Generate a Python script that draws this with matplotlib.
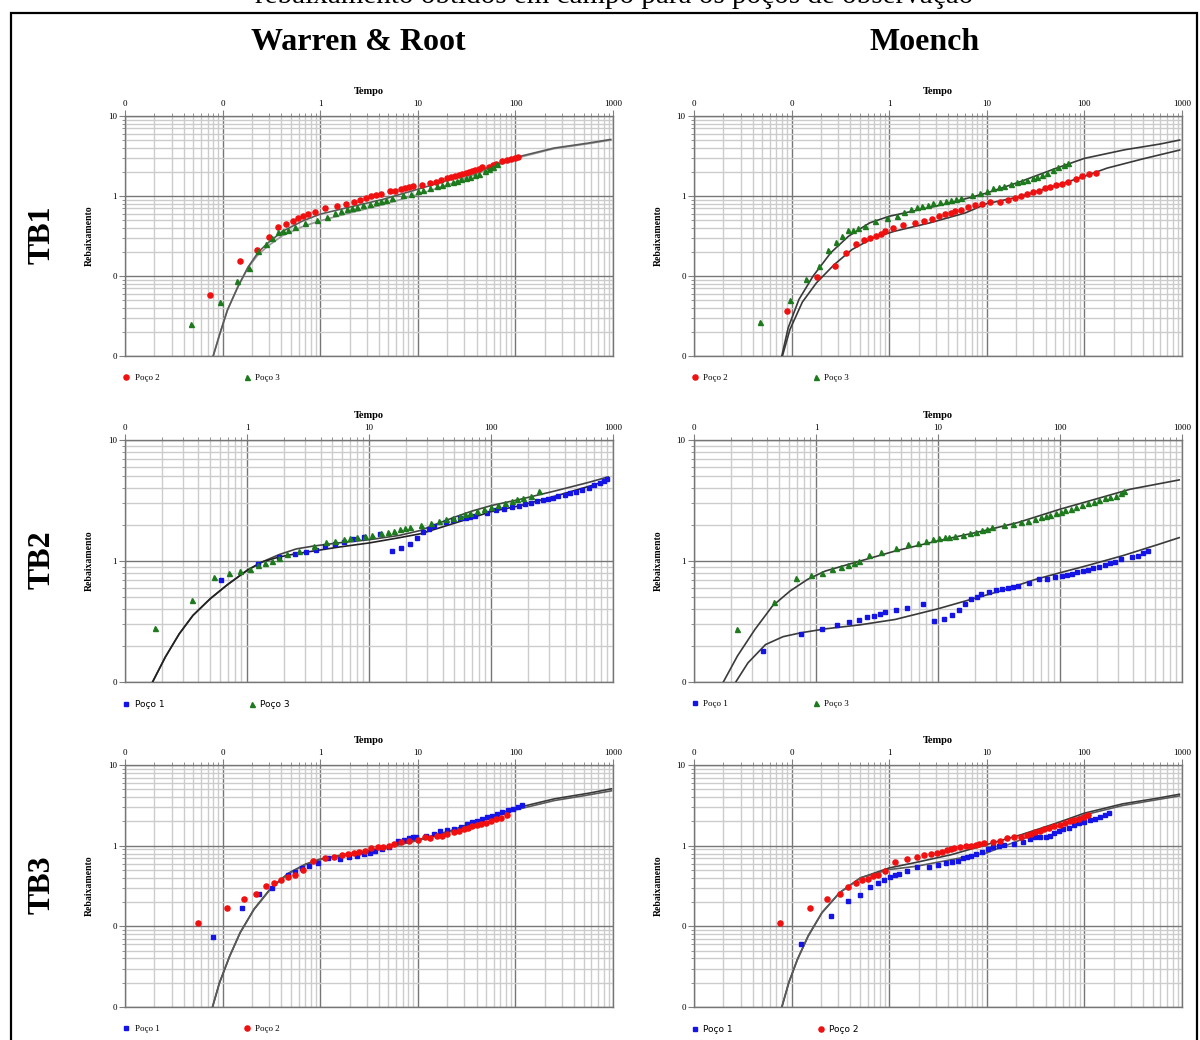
import matplotlib
matplotlib.use("Agg")
import matplotlib.pyplot as plt
from matplotlib.patches import Rectangle
from matplotlib.ticker import FixedLocator, FixedFormatter, LogLocator, NullFormatter

# ---------------- TB1 / Warren & Root ----------------
tb1_wr_p2_t = [0.074, 0.149, 0.223, 0.296, 0.372, 0.445, 0.523, 0.595, 0.667, 0.746, 0.885, 1.11, 1.48,
               1.85, 2.21, 2.58, 2.96, 3.32, 3.72, 4.17, 5.23, 5.9, 6.72, 7.47, 8.1, 8.93, 11.1, 13.4, 15.2,
               17.3, 20.1, 22.1, 24.2, 26.2, 28.5, 30.9, 33.5, 36.0, 38.7, 42.0, 45.9, 53.1, 58.6, 63.5,
               73.5, 81.7, 90.0, 98.4, 106]
tb1_wr_p2_s = [0.058, 0.156, 0.21, 0.307, 0.405, 0.445, 0.48, 0.524, 0.56, 0.593, 0.634, 0.703, 0.744,
               0.788, 0.843, 0.901, 0.944, 0.99, 1.02, 1.06, 1.14, 1.17, 1.23, 1.26, 1.29, 1.34, 1.38, 1.45,
               1.51, 1.59, 1.67, 1.72, 1.79, 1.84, 1.89, 1.96, 2.02, 2.08, 2.12, 2.20, 2.27, 2.33, 2.42,
               2.52, 2.74, 2.85, 2.93, 3.02, 3.1]
tb1_wr_p3_t = [0.047, 0.093, 0.139, 0.185, 0.232, 0.28, 0.324, 0.372, 0.417, 0.467, 0.557, 0.706, 0.929,
               1.16, 1.41, 1.64, 1.88, 2.11, 2.36, 2.75, 3.24, 3.75, 4.24, 4.74, 5.49, 7.0, 8.57, 9.92,
               11.4, 13.4, 15.7, 17.8, 20.1, 22.7, 25.2, 27.8, 30.9, 34.3, 38.4, 42.7, 48.2, 54.0, 58.6, 65.0]
tb1_wr_p3_s = [0.025, 0.047, 0.087, 0.126, 0.204, 0.252, 0.301, 0.358, 0.365, 0.375, 0.405, 0.463, 0.504,
               0.549, 0.61, 0.646, 0.69, 0.717, 0.731, 0.766, 0.804, 0.834, 0.867, 0.901, 0.935, 1.02, 1.07,
               1.14, 1.2, 1.26, 1.33, 1.38, 1.45, 1.51, 1.56, 1.61, 1.67, 1.74, 1.82, 1.89, 2.04, 2.20,
               2.33, 2.54]
tb1_wr_c1_t = [0.08, 0.094, 0.112, 0.143, 0.182, 0.232, 0.296, 0.41, 0.667, 1.0, 1.91, 4.3, 9.68, 21.8,
               49.0, 101, 248, 557, 945]
tb1_wr_c1_s = [0.01, 0.0193, 0.0375, 0.073, 0.129, 0.199, 0.264, 0.361, 0.49, 0.593, 0.717, 0.901, 1.2,
               1.61, 2.2, 3.04, 3.97, 4.58, 5.09]
tb1_wr_c2_t = [0.08, 0.094, 0.112, 0.143, 0.182, 0.232, 0.296, 0.41, 0.667, 1.0, 1.91, 4.3, 9.68, 21.8,
               49.0, 101, 248, 557, 945]
tb1_wr_c2_s = [0.01, 0.0193, 0.0375, 0.073, 0.127, 0.186, 0.24, 0.319, 0.417, 0.49, 0.604, 0.773, 1.03,
               1.42, 2.08, 2.96, 3.9, 4.5, 4.99]

# ---------------- TB1 / Moench ----------------
tb1_mo_p2_t = [0.0908, 0.182, 0.276, 0.364, 0.456, 0.548, 0.631, 0.728, 0.818, 0.912, 1.09, 1.37, 1.82,
               2.27, 2.75, 3.22, 3.72, 4.25, 4.77, 5.41, 6.45, 7.62, 9.01, 10.8, 13.7, 16.4, 19.4, 22.4,
               26.0, 30.0, 34.3, 39.5, 44.8, 51.7, 58.6, 68.1, 81.8, 95.1, 112, 131]
tb1_mo_p2_s = [0.0364, 0.0977, 0.133, 0.191, 0.249, 0.28, 0.297, 0.32, 0.339, 0.37, 0.395, 0.435, 0.461,
               0.488, 0.521, 0.557, 0.59, 0.62, 0.65, 0.676, 0.722, 0.765, 0.802, 0.842, 0.85, 0.9, 0.944,
               1.01, 1.06, 1.11, 1.17, 1.25, 1.29, 1.37, 1.43, 1.51, 1.64, 1.76, 1.86, 1.94]
tb1_mo_p3_t = [0.047, 0.0955, 0.1415, 0.191, 0.2355, 0.283, 0.329, 0.383, 0.43, 0.48, 0.566, 0.716, 0.96,
               1.19, 1.42, 1.66, 1.92, 2.16, 2.47, 2.79, 3.3, 3.81, 4.32, 4.85, 5.41, 7.13, 8.57, 10, 11.6,
               13.3, 15.1, 17.6, 20.3, 23.0, 26.0, 29.5, 32.9, 37.0, 41.2, 48.0, 53.8, 61.5, 68.0]
tb1_mo_p3_s = [0.0265, 0.0494, 0.0904, 0.1315, 0.212, 0.264, 0.32, 0.373, 0.38, 0.395, 0.427, 0.483,
               0.526, 0.569, 0.638, 0.689, 0.73, 0.743, 0.765, 0.81, 0.842, 0.867, 0.9, 0.927, 0.953,
               1.04, 1.1, 1.17, 1.25, 1.29, 1.35, 1.41, 1.48, 1.54, 1.6, 1.68, 1.74, 1.85, 1.95, 2.13,
               2.28, 2.41, 2.58]
tb1_mo_c1_t = [0.0794, 0.0924, 0.119, 0.166, 0.252, 0.383, 0.631, 1.0, 1.72, 3.97, 10, 21.1, 48.7, 100,
               259, 598, 946]
tb1_mo_c1_s = [0.01, 0.0226, 0.0509, 0.0995, 0.195, 0.314, 0.461, 0.557, 0.644, 0.802, 1.09, 1.48, 2.17,
               2.95, 3.78, 4.46, 5.0]
tb1_mo_c2_t = [0.0806, 0.0963, 0.129, 0.18, 0.274, 0.416, 0.687, 1.13, 2.61, 6.03, 10, 21.1, 48.7, 100,
               171, 394, 946]
tb1_mo_c2_s = [0.01, 0.0215, 0.0472, 0.0822, 0.139, 0.214, 0.299, 0.362, 0.461, 0.614, 0.802, 0.97,
               1.32, 1.76, 2.23, 2.9, 3.75]

# ---------------- TB2 / Warren & Root ----------------
tb2_wr_p1_t = [0.61, 1.22, 1.84, 2.47, 3.06, 3.7, 4.32, 5.25, 6.22, 7.41, 9.13, 12.3, 15.4, 18.4, 21.7,
               24.9, 27.6, 31.0, 33.8, 43.0, 48.9, 55.7, 62.2, 67.7, 73.7, 91.9, 110, 128, 148, 168, 188,
               214, 238, 265, 292, 322, 355, 400, 446, 499, 561, 630, 703, 776, 845, 896]
tb2_wr_p1_s = [0.696, 0.951, 1.07, 1.14, 1.19, 1.24, 1.32, 1.37, 1.45, 1.52, 1.57, 1.68, 1.22, 1.28,
               1.37, 1.54, 1.73, 1.85, 1.94, 2.1, 2.2, 2.25, 2.28, 2.33, 2.36, 2.51, 2.66, 2.71, 2.8, 2.87,
               2.94, 3.02, 3.12, 3.2, 3.26, 3.34, 3.45, 3.54, 3.63, 3.75, 3.89, 4.05, 4.28, 4.45, 4.62, 4.74]
tb2_wr_p3_t = [0.177, 0.353, 0.536, 0.708, 0.879, 1.05, 1.24, 1.41, 1.61, 1.83, 2.13, 2.67, 3.51, 4.41,
               5.25, 6.22, 7.03, 7.91, 9.31, 10.6, 12.5, 14.2, 15.9, 17.8, 19.7, 21.7, 26.7, 32.1, 37.7,
               43.0, 48.9, 55.7, 61.4, 67.7, 77.1, 87.9, 100, 114, 130, 148, 163, 183, 211, 249]
tb2_wr_p3_s = [0.282, 0.472, 0.738, 0.791, 0.821, 0.865, 0.927, 0.969, 1.0, 1.05, 1.14, 1.22, 1.32,
               1.44, 1.47, 1.52, 1.56, 1.58, 1.62, 1.65, 1.71, 1.73, 1.78, 1.84, 1.87, 1.91, 2.0, 2.08,
               2.14, 2.21, 2.28, 2.37, 2.43, 2.5, 2.58, 2.68, 2.78, 2.91, 3.04, 3.16, 3.24, 3.34, 3.47, 3.79]
tb2_wr_c1_t = [0.168, 0.214, 0.278, 0.36, 0.499, 0.69, 1.0, 1.32, 1.83, 2.54, 3.51, 5.53, 10, 17.8, 26.4,
               36.5, 50.5, 70, 100, 174, 333, 638, 912]
tb2_wr_c1_s = [0.1, 0.161, 0.25, 0.355, 0.488, 0.637, 0.837, 0.98, 1.13, 1.26, 1.33, 1.41, 1.5, 1.63,
               1.79, 2.04, 2.31, 2.59, 2.87, 3.24, 3.79, 4.48, 4.96]
tb2_wr_c2_t = [0.168, 0.214, 0.278, 0.36, 0.499, 0.69, 1.0, 1.32, 1.83, 2.54, 3.51, 5.53, 10, 17.8, 26.4,
               36.5, 50.5, 70, 100, 174, 333, 638, 912]
tb2_wr_c2_s = [0.1, 0.161, 0.25, 0.355, 0.488, 0.637, 0.837, 0.98, 1.08, 1.15, 1.21, 1.3, 1.41, 1.56,
               1.68, 1.86, 2.06, 2.28, 2.56, 2.87, 3.43, 4.15, 4.65]

# ---------------- TB2 / Moench ----------------
tb2_mo_p1_t = [0.371, 0.748, 1.12, 1.49, 1.86, 2.24, 2.61, 2.98, 3.36, 3.71, 4.49, 5.58, 7.52, 9.36,
               11.2, 13.0, 14.9, 16.7, 18.8, 20.7, 22.6, 26.1, 30.0, 33.6, 37.6, 41.5, 45.2, 56.2, 67.2,
               78.3, 90.6, 103, 114, 126, 139, 154, 170, 188, 207, 232, 256, 283, 318, 388, 434, 483, 523]
tb2_mo_p1_s = [0.182, 0.25, 0.275, 0.297, 0.313, 0.323, 0.344, 0.351, 0.364, 0.378, 0.393, 0.408, 0.438,
               0.319, 0.331, 0.357, 0.396, 0.443, 0.482, 0.504, 0.537, 0.554, 0.572, 0.583, 0.598, 0.61,
               0.617, 0.653, 0.705, 0.705, 0.733, 0.746, 0.766, 0.785, 0.805, 0.826, 0.848, 0.869, 0.898,
               0.927, 0.957, 0.987, 1.03, 1.07, 1.11, 1.17, 1.22]
tb2_mo_p3_t = [0.227, 0.452, 0.686, 0.906, 1.13, 1.36, 1.6, 1.82, 2.04, 2.25, 2.73, 3.4, 4.55, 5.7, 6.86,
               7.93, 9.12, 10.2, 11.4, 12.4, 13.7, 15.9, 18.2, 20.4, 23.0, 25.2, 27.5, 34.7, 40.9, 47.6,
               55.1, 62.9, 69.5, 76.7, 83.6, 92.4, 101, 110, 122, 135, 151, 170, 191, 210, 232, 256, 288,
               318, 334]
tb2_mo_p3_s = [0.272, 0.461, 0.719, 0.766, 0.8, 0.853, 0.897, 0.927, 0.957, 1.0, 1.12, 1.19, 1.29, 1.39,
               1.42, 1.47, 1.51, 1.54, 1.57, 1.59, 1.61, 1.65, 1.69, 1.75, 1.79, 1.84, 1.9, 1.97, 2.02,
               2.09, 2.16, 2.23, 2.3, 2.36, 2.42, 2.48, 2.54, 2.63, 2.71, 2.8, 2.89, 3.0, 3.1, 3.2, 3.3,
               3.37, 3.45, 3.68, 3.82]
tb2_mo_c1_t = [0.174, 0.227, 0.316, 0.44, 0.613, 0.853, 1.19, 2.3, 4.46, 10, 23.3, 45.2, 100, 194, 376, 948]
tb2_mo_c1_s = [0.1, 0.164, 0.272, 0.425, 0.565, 0.705, 0.826, 1.0, 1.21, 1.47, 1.77, 2.08, 2.68, 3.24,
               3.92, 4.68]
tb2_mo_c2_t = [0.22, 0.277, 0.386, 0.537, 0.748, 1.19, 2.3, 4.46, 10, 16.7, 32.5, 62.9, 100, 170, 329,
               638, 948]
tb2_mo_c2_s = [0.1, 0.144, 0.204, 0.237, 0.255, 0.275, 0.297, 0.329, 0.403, 0.467, 0.565, 0.705, 0.8,
               0.921, 1.11, 1.37, 1.56]

# ---------------- TB3 / Warren & Root ----------------
tb3_wr_p1_t = [0.0794, 0.159, 0.234, 0.32, 0.472, 0.556, 0.655, 0.771, 0.953, 1.19, 1.59, 1.98, 2.37,
               2.79, 3.21, 3.62, 4.27, 5.1, 6.31, 7.25, 8.18, 9.02, 9.63, 12.1, 14.5, 16.8, 19.7, 23.6,
               27.8, 32.2, 36.1, 40.1, 45.3, 51.2, 57.8, 65.3, 72.6, 83.4, 94.4, 105, 116]
tb3_wr_p1_s = [0.0737, 0.168, 0.253, 0.3, 0.431, 0.475, 0.522, 0.564, 0.603, 0.695, 0.682, 0.73, 0.743,
               0.78, 0.811, 0.85, 0.9, 0.953, 1.13, 1.19, 1.23, 1.27, 1.28, 1.32, 1.38, 1.51, 1.55, 1.61,
               1.69, 1.86, 1.95, 2.05, 2.15, 2.25, 2.36, 2.48, 2.6, 2.75, 2.89, 3.03, 3.21]
tb3_wr_p2_t = [0.0554, 0.111, 0.167, 0.221, 0.276, 0.333, 0.392, 0.465, 0.556, 0.661, 0.836, 1.11, 1.39,
               1.67, 1.94, 2.22, 2.51, 2.84, 3.29, 3.87, 4.44, 5.02, 5.67, 6.67, 8.18, 10, 11.8, 13.3,
               15.7, 17.7, 20.0, 23.2, 26.2, 29.6, 32.7, 36.1, 40.1, 44.6, 50.0, 56.5, 63.8, 71.5, 81.4]
tb3_wr_p2_s = [0.111, 0.168, 0.219, 0.253, 0.312, 0.346, 0.377, 0.411, 0.436, 0.493, 0.638, 0.695,
               0.723, 0.766, 0.787, 0.811, 0.826, 0.859, 0.935, 0.953, 0.962, 1.0, 1.04, 1.1, 1.13, 1.18,
               1.27, 1.26, 1.33, 1.33, 1.38, 1.49, 1.54, 1.61, 1.67, 1.74, 1.79, 1.84, 1.93, 2.03, 2.13,
               2.23, 2.41]
tb3_wr_c1_t = [0.0787, 0.0927, 0.118, 0.151, 0.209, 0.315, 0.472, 0.71, 1.0, 1.89, 4.27, 10, 21.8, 49.1,
               100, 251, 566, 962]
tb3_wr_c1_s = [0.01, 0.0199, 0.0427, 0.0834, 0.163, 0.303, 0.457, 0.592, 0.682, 0.787, 0.927, 1.18, 1.54,
               2.19, 2.92, 3.81, 4.48, 5.07]
tb3_wr_c2_t = [0.0787, 0.0927, 0.118, 0.151, 0.209, 0.315, 0.472, 0.71, 1.0, 1.89, 4.27, 10, 21.8, 49.1,
               100, 251, 566, 962]
tb3_wr_c2_s = [0.01, 0.0199, 0.0427, 0.0834, 0.161, 0.298, 0.45, 0.584, 0.672, 0.776, 0.914, 1.16, 1.5,
               2.11, 2.78, 3.63, 4.27, 4.79]

# ---------------- TB3 / Moench ----------------
tb3_mo_p1_t = [0.125, 0.252, 0.378, 0.505, 0.635, 0.768, 0.891, 1.03, 1.16, 1.27, 1.53, 1.92, 2.56,
               3.17, 3.84, 4.41, 5.12, 5.7, 6.29, 6.95, 7.73, 8.97, 10.3, 11.7, 13.2, 15.0, 19.2, 23.5,
               27.8, 31.4, 35.5, 40.2, 44.4, 49.4, 55.1, 60.8, 68.8, 77.8, 88.1, 99.7, 113, 128, 145,
               161, 178]
tb3_mo_p1_s = [0.0605, 0.135, 0.204, 0.246, 0.306, 0.343, 0.373, 0.406, 0.434, 0.442, 0.491, 0.551,
               0.551, 0.582, 0.605, 0.628, 0.653, 0.698, 0.731, 0.745, 0.796, 0.843, 0.91, 0.963, 1.0,
               1.03, 1.04, 1.11, 1.22, 1.27, 1.27, 1.28, 1.33, 1.43, 1.53, 1.61, 1.68, 1.78, 1.89, 1.98,
               2.09, 2.17, 2.28, 2.39, 2.53]
tb3_mo_p2_t = [0.0769, 0.153, 0.229, 0.31, 0.381, 0.457, 0.53, 0.61, 0.69, 0.762, 0.914, 1.15, 1.53,
               1.92, 2.3, 2.69, 3.07, 3.48, 3.87, 4.27, 4.64, 5.29, 6.13, 6.95, 7.73, 8.4, 9.27, 11.5,
               13.8, 16.3, 19.2, 22.6, 25.6, 28.5, 31.4, 34.7, 38.6, 43.7, 49.4, 56.0, 63.4, 70.5, 79.1,
               88.1, 98.0, 108]
tb3_mo_p2_s = [0.11, 0.167, 0.217, 0.251, 0.309, 0.343, 0.373, 0.388, 0.418, 0.434, 0.487, 0.629, 0.678,
               0.718, 0.76, 0.782, 0.804, 0.835, 0.875, 0.918, 0.935, 0.953, 0.991, 0.981, 1.01, 1.04,
               1.08, 1.11, 1.15, 1.24, 1.28, 1.3, 1.34, 1.41, 1.47, 1.53, 1.59, 1.65, 1.73, 1.82, 1.92,
               2.0, 2.09, 2.17, 2.28, 2.41]
tb3_mo_c1_t = [0.0795, 0.0938, 0.115, 0.148, 0.205, 0.31, 0.508, 1.0, 1.9, 4.34, 9.9, 22.6, 51.5, 100,
               247, 563, 940]
tb3_mo_c1_s = [0.01, 0.0202, 0.0391, 0.076, 0.148, 0.261, 0.399, 0.53, 0.622, 0.774, 1.03, 1.37, 1.9,
               2.53, 3.3, 3.88, 4.34]
tb3_mo_c2_t = [0.0795, 0.0938, 0.115, 0.148, 0.205, 0.31, 0.508, 1.0, 1.9, 4.34, 9.9, 22.6, 51.5, 100,
               247, 563, 940]
tb3_mo_c2_s = [0.01, 0.0202, 0.0391, 0.076, 0.148, 0.261, 0.399, 0.506, 0.556, 0.671, 0.812, 1.19, 1.73,
               2.41, 3.15, 3.73, 4.14]

# axis ticks
x_ticks_5 = [0.01, 0.1, 1, 10, 100, 1000]
x_labels_5 = ["0", "0", "1", "10", "100", "1000"]
x_ticks_4 = [0.1, 1, 10, 100, 1000]
x_labels_4 = ["0", "1", "10", "100", "1000"]
y_ticks_3 = [0.01, 0.1, 1, 10]
y_labels_3 = ["0", "0", "1", "10"]
y_ticks_2 = [0.1, 1, 10]
y_labels_2 = ["0", "1", "10"]

SERIF = "Liberation Serif"
SANS = "DejaVu Sans"
RED = "#f01010"
GREEN = "#1d7a1d"
BLUE = "#1414e6"

fig = plt.figure(figsize=(12, 10.4), dpi=100)


def panel(rect, xt, xl, yt, yl, series, curves, legend_font):
    ax = fig.add_axes(rect)
    ax.set_xscale("log")
    ax.set_yscale("log")
    ax.set_xlim(xt[0], xt[-1])
    ax.set_ylim(yt[0], yt[-1])

    ax.xaxis.set_major_locator(FixedLocator(xt))
    ax.xaxis.set_major_formatter(FixedFormatter(xl))
    ax.yaxis.set_major_locator(FixedLocator(yt))
    ax.yaxis.set_major_formatter(FixedFormatter(yl))
    for axis in (ax.xaxis, ax.yaxis):
        axis.set_minor_locator(LogLocator(base=10, subs=range(2, 10), numticks=20))
        axis.set_minor_formatter(NullFormatter())

    ax.xaxis.tick_top()
    ax.xaxis.set_label_position("top")
    ax.tick_params(which="both", direction="out", color="#808080", labelsize=6)
    ax.tick_params(which="major", length=4, width=0.8, pad=2)
    ax.tick_params(which="minor", length=2, width=0.6)
    for lab in ax.get_xticklabels() + ax.get_yticklabels():
        lab.set_fontfamily(SERIF)
        lab.set_fontsize(6.5)

    ax.grid(which="minor", color="#cccccc", lw=1.0)
    ax.grid(which="major", color="#767676", lw=1.0)
    ax.set_axisbelow(True)
    for sp in ax.spines.values():
        sp.set_color("#767676")
        sp.set_linewidth(1.0)

    ax.set_xlabel("Tempo", fontfamily=SERIF, fontweight="bold", fontsize=7.5, labelpad=4)
    ax.set_ylabel("Rebaixamento", fontfamily=SERIF, fontweight="bold", fontsize=7, labelpad=10)

    for ct, cs, col in curves:
        ax.plot(ct, cs, color=col, lw=1.2, zorder=3)

    handles = []
    for t, s, mk, ms, col, lab in series:
        h, = ax.plot(t, s, ls="none", marker=mk, ms=ms, color=col, mec=col, label=lab, zorder=4)
        handles.append(h)

    ax.legend(handles=handles, loc="upper left", bbox_to_anchor=(-0.012, -0.058), ncol=2,
              frameon=False, numpoints=1, handlelength=0.8, handletextpad=0.5,
              columnspacing=9.3, borderaxespad=0,
              prop={"family": legend_font, "size": 6.5})
    return ax


left_x, right_x, width = 0.1042, 0.5783, 0.4067
row1 = (0.6577, 0.2308)
row2 = (0.3442, 0.2327)
row3 = (0.0317, 0.2327)

panel([left_x, row1[0], width, row1[1]], x_ticks_5, x_labels_5, y_ticks_3, y_labels_3,
      [(tb1_wr_p2_t, tb1_wr_p2_s, "o", 3.7, RED, "Poço 2"),
       (tb1_wr_p3_t, tb1_wr_p3_s, "^", 3.6, GREEN, "Poço 3")],
      [(tb1_wr_c2_t, tb1_wr_c2_s, "#9a9a9a"), (tb1_wr_c1_t, tb1_wr_c1_s, "#5a5a5a")], SERIF)

panel([right_x, row1[0], width, row1[1]], x_ticks_5, x_labels_5, y_ticks_3, y_labels_3,
      [(tb1_mo_p2_t, tb1_mo_p2_s, "o", 3.7, RED, "Poço 2"),
       (tb1_mo_p3_t, tb1_mo_p3_s, "^", 3.6, GREEN, "Poço 3")],
      [(tb1_mo_c1_t, tb1_mo_c1_s, "#3a3a3a"), (tb1_mo_c2_t, tb1_mo_c2_s, "#3a3a3a")], SERIF)

panel([left_x, row2[0], width, row2[1]], x_ticks_4, x_labels_4, y_ticks_2, y_labels_2,
      [(tb2_wr_p1_t, tb2_wr_p1_s, "s", 3.4, BLUE, "Poço 1"),
       (tb2_wr_p3_t, tb2_wr_p3_s, "^", 3.6, GREEN, "Poço 3")],
      [(tb2_wr_c1_t, tb2_wr_c1_s, "#444444"), (tb2_wr_c2_t, tb2_wr_c2_s, "#222222")], SANS)

panel([right_x, row2[0], width, row2[1]], x_ticks_4, x_labels_4, y_ticks_2, y_labels_2,
      [(tb2_mo_p1_t, tb2_mo_p1_s, "s", 3.4, BLUE, "Poço 1"),
       (tb2_mo_p3_t, tb2_mo_p3_s, "^", 3.6, GREEN, "Poço 3")],
      [(tb2_mo_c1_t, tb2_mo_c1_s, "#3a3a3a"), (tb2_mo_c2_t, tb2_mo_c2_s, "#3a3a3a")], SERIF)

panel([left_x, row3[0], width, row3[1]], x_ticks_5, x_labels_5, y_ticks_3, y_labels_3,
      [(tb3_wr_p1_t, tb3_wr_p1_s, "s", 3.4, BLUE, "Poço 1"),
       (tb3_wr_p2_t, tb3_wr_p2_s, "o", 3.7, RED, "Poço 2")],
      [(tb3_wr_c1_t, tb3_wr_c1_s, "#3a3a3a"), (tb3_wr_c2_t, tb3_wr_c2_s, "#5a5a5a")], SERIF)

panel([right_x, row3[0], width, row3[1]], x_ticks_5, x_labels_5, y_ticks_3, y_labels_3,
      [(tb3_mo_p1_t, tb3_mo_p1_s, "s", 3.4, BLUE, "Poço 1"),
       (tb3_mo_p2_t, tb3_mo_p2_s, "o", 3.7, RED, "Poço 2")],
      [(tb3_mo_c1_t, tb3_mo_c1_s, "#3a3a3a"), (tb3_mo_c2_t, tb3_mo_c2_s, "#5a5a5a")], SANS)

# headings, row labels and frame
fig.text(0.512, 1 - 3 / 1040, "rebaixamento obtidos em campo para os poços de observação",
         ha="center", va="baseline", fontfamily=SERIF, fontsize=21)
fig.text(358 / 1200, 1 - 42 / 1040, "Warren & Root", ha="center", va="center",
         fontfamily=SERIF, fontweight="bold", fontsize=23)
fig.text(925 / 1200, 1 - 42 / 1040, "Moench", ha="center", va="center",
         fontfamily=SERIF, fontweight="bold", fontsize=23)
for lab, yc in (("TB1", 235), ("TB2", 560), ("TB3", 885)):
    fig.text(42 / 1200, 1 - yc / 1040, lab, ha="center", va="center", rotation=90,
             fontfamily=SERIF, fontweight="bold", fontsize=23)

fig.patches.append(Rectangle((11 / 1200, -0.01), 1186 / 1200, 1 - 13 / 1040 + 0.01,
                             transform=fig.transFigure, fill=False, ec="black", lw=1.6))

fig.savefig("out.png", dpi=100)
